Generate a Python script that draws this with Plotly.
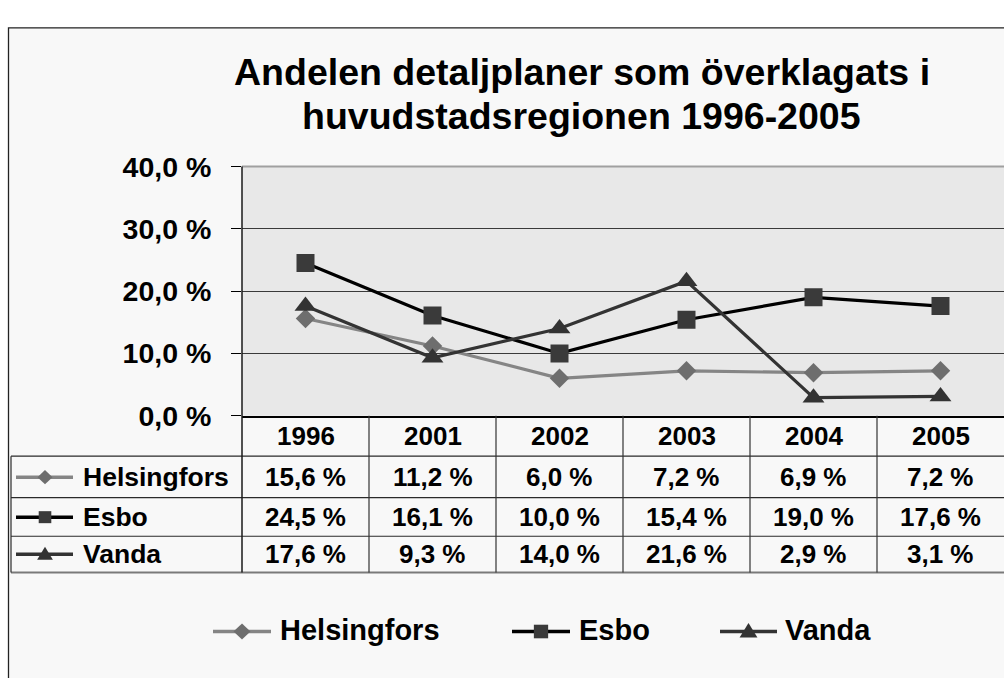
import plotly.graph_objects as go

# ---------------- data ----------------
years = ["1996", "2001", "2002", "2003", "2004", "2005"]
helsingfors = [15.6, 11.2, 6.0, 7.2, 6.9, 7.2]
esbo = [24.5, 16.1, 10.0, 15.4, 19.0, 17.6]
vanda = [17.6, 9.3, 14.0, 21.6, 2.9, 3.1]
series_names = ["Helsingfors", "Esbo", "Vanda"]
y_ticks = [0, 10, 20, 30, 40]
title_lines = ["Andelen detaljplaner som överklagats i",
               "huvudstadsregionen 1996-2005"]

# ---------------- layout helpers ----------------
W, H = 1004, 678
FONT = "Liberation Sans, Arial, Helvetica, sans-serif"


def px(x):
    return x / W


def py(y):
    return 1 - y / H


def fmt(v):
    return f"{v:.1f}".replace(".", ",") + " %"


styles = {
    "Helsingfors": dict(line="#858585", marker="#6e6e6e", symbol="diamond", msize=15, legsym="diamond"),
    "Esbo": dict(line="#000000", marker="#3a3a3a", symbol="square", msize=18, legsym="square"),
    "Vanda": dict(line="#333333", marker="#333333", symbol="triangle-up", msize=19, legsym="triangle"),
}
values = {"Helsingfors": helsingfors, "Esbo": esbo, "Vanda": vanda}

PLOT_L, PLOT_R, PLOT_T, PLOT_B = 242, 1004, 158, 419.5
row_lines = [462, 505.5, 546, 584]
row_centers = [441, 484, 526, 565]

fig = go.Figure()
for name in series_names:
    st = styles[name]
    fig.add_trace(go.Scatter(
        x=years, y=values[name], name=name, mode="lines+markers",
        line=dict(color=st["line"], width=3.2),
        marker=dict(symbol=st["symbol"], size=st["msize"], color=st["marker"],
                    line=dict(width=0)),
        showlegend=False, hoverinfo="x+y+name",
    ))

shapes = []
annotations = []

# outer frame and plot background
shapes.append(dict(type="rect", xref="paper", yref="paper", layer="below",
                   x0=px(8.5), x1=px(1100), y0=py(12.5), y1=py(800),
                   line=dict(color="#222222", width=1.3), fillcolor="#f8f8f8"))
shapes.append(dict(type="rect", xref="paper", yref="paper", layer="below",
                   x0=px(PLOT_L), x1=px(PLOT_R), y0=py(PLOT_B), y1=py(PLOT_T),
                   line=dict(width=0), fillcolor="#e8e8e8"))
# top border of plot area
shapes.append(dict(type="line", xref="paper", yref="paper",
                   x0=px(PLOT_L), x1=px(PLOT_R), y0=py(PLOT_T), y1=py(PLOT_T),
                   line=dict(color="#a0a0a0", width=2)))

# data table grid
for i, yl in enumerate(row_lines):
    last = i == len(row_lines) - 1
    shapes.append(dict(type="line", xref="paper", yref="paper",
                       x0=px(11), x1=px(PLOT_R), y0=py(yl), y1=py(yl),
                       line=dict(color="#7a7a7a" if last else "#2a2a2a",
                                 width=2 if last else 1.2)))
shapes.append(dict(type="line", xref="paper", yref="paper",
                   x0=px(11), x1=px(11), y0=py(row_lines[0]), y1=py(row_lines[-1]),
                   line=dict(color="#2a2a2a", width=1.2)))
ncol = len(years)
for k in range(ncol):
    xb = PLOT_L + k * (PLOT_R - PLOT_L) / ncol
    shapes.append(dict(type="line", xref="paper", yref="paper",
                       x0=px(xb), x1=px(xb), y0=py(PLOT_B if k else PLOT_T), y1=py(row_lines[-1]),
                       line=dict(color="#1a1a1a" if k == 0 else "#333333",
                                 width=1.5 if k == 0 else 1.2)))

# header row: years (positioned on the category axis by index)
for i, yr in enumerate(years):
    annotations.append(dict(x=i, xref="x", y=py(row_centers[0]), yref="paper",
                            text=yr, showarrow=False, xanchor="center", yanchor="middle",
                            font=dict(family=FONT, size=26, color="#000", weight="bold")))


def symbol_shapes(name, cx, cy, x0, x1, msz):
    st = styles[name]
    out = [dict(type="line", xref="paper", yref="paper",
                x0=px(x0), x1=px(x1), y0=py(cy), y1=py(cy),
                line=dict(color=st["line"], width=3.5))]
    h = msz / 2
    if st["legsym"] == "diamond":
        pts = [(cx, cy - h), (cx + h, cy), (cx, cy + h), (cx - h, cy)]
    elif st["legsym"] == "square":
        h = msz * 0.42
        pts = [(cx - h, cy - h), (cx + h, cy - h), (cx + h, cy + h), (cx - h, cy + h)]
    else:
        pts = [(cx, cy - h * 1.05), (cx + h * 1.05, cy + h * 0.75), (cx - h * 1.05, cy + h * 0.75)]
    path = "M " + " L ".join(f"{px(a):.5f},{py(b):.5f}" for a, b in pts) + " Z"
    out.append(dict(type="path", xref="paper", yref="paper", path=path,
                    fillcolor=st["marker"], line=dict(width=0)))
    return out


# data rows
for r, name in enumerate(series_names):
    cy = row_centers[r + 1]
    shapes.extend(symbol_shapes(name, 45, cy, 16, 73, 15))
    annotations.append(dict(x=px(81), xref="paper", y=py(cy), yref="paper",
                            text=name, showarrow=False, xanchor="left", yanchor="middle",
                            font=dict(family=FONT, size=26.5, color="#000", weight="bold")))
    for i, v in enumerate(values[name]):
        annotations.append(dict(x=i, xref="x", y=py(cy), yref="paper",
                                text=fmt(v), showarrow=False, xanchor="center", yanchor="middle",
                                font=dict(family=FONT, size=26, color="#000", weight="bold")))

# bottom legend
legend_pos = {"Helsingfors": (213, 271, 278), "Esbo": (512, 570, 577), "Vanda": (720, 777, 783)}
LEG_Y = 646
for name in series_names:
    a, b, t = legend_pos[name]
    shapes.extend(symbol_shapes(name, (a + b) / 2, LEG_Y, a, b, 17))
    annotations.append(dict(x=px(t), xref="paper", y=py(LEG_Y - 2), yref="paper",
                            text=name, showarrow=False, xanchor="left", yanchor="middle",
                            font=dict(family=FONT, size=29, color="#000", weight="bold")))

# title
for i, line in enumerate(title_lines):
    annotations.append(dict(x=px(581.5), xref="paper", y=py(59 + 46 * i), yref="paper",
                            text=line, showarrow=False, xanchor="center", yanchor="middle",
                            font=dict(family=FONT, size=37.5, color="#000", weight="bold")))

fig.update_layout(
    width=W, height=H,
    margin=dict(l=0, r=0, t=0, b=0),
    paper_bgcolor="#ffffff",
    plot_bgcolor="rgba(0,0,0,0)",
    showlegend=False,
    shapes=shapes,
    annotations=annotations,
    xaxis=dict(domain=[px(PLOT_L), px(PLOT_R)], type="category", range=[-0.5, 5.5],
               showticklabels=False, ticks="", showgrid=False, zeroline=False,
               showline=True, linecolor="#000000", linewidth=1.5, fixedrange=True),
    yaxis=dict(domain=[py(PLOT_B), py(PLOT_T)], range=[0, 40],
               tickvals=y_ticks, ticktext=[fmt(v) for v in y_ticks],
               ticks="outside", ticklen=10, tickwidth=1, tickcolor="#000000",
               ticklabelstandoff=14,
               tickfont=dict(family=FONT, size=28.5, color="#000", weight="bold"),
               showgrid=True, gridcolor="#3a3a3a", gridwidth=1, zeroline=False,
               showline=False, fixedrange=True),
)

fig.write_html(
    "out.html",
    config={"displayModeBar": False},
    post_script=(
        "document.documentElement.style.overflow='hidden';"
        "document.body.style.margin='0';document.body.style.overflow='hidden';"
        "var gd=document.getElementById('{plot_id}');"
        "gd.style.position='fixed';gd.style.left='0px';gd.style.top='0px';"
    ),
)
